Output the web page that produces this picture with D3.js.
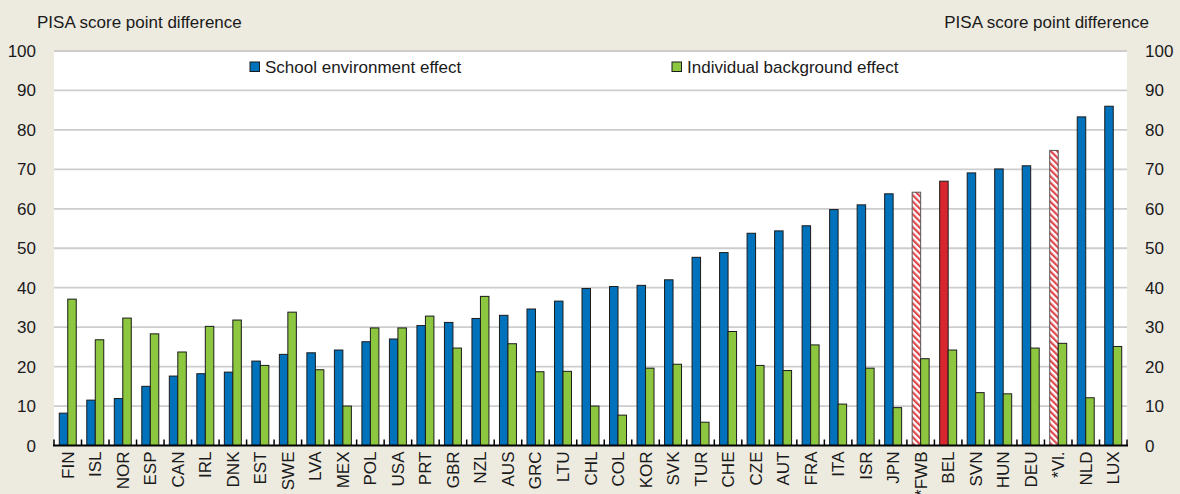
<!DOCTYPE html>
<html>
<head>
<meta charset="utf-8">
<script src="https://cdn.jsdelivr.net/npm/d3@7"></script>
<style>
  body { margin: 0; background: #edeae0; }
  svg text { font-family: "Liberation Sans", Arial, sans-serif; fill: #1a1a1a; }
</style>
</head>
<body>
<svg id="chart" width="1180" height="494"></svg>
<script>
// countries, sorted by school environment effect
var countries = ["FIN","ISL","NOR","ESP","CAN","IRL","DNK","EST","SWE","LVA",
    "MEX","POL","USA","PRT","GBR","NZL","AUS","GRC","LTU","CHL",
    "COL","KOR","SVK","TUR","CHE","CZE","AUT","FRA","ITA","ISR",
    "JPN","*FWB","BEL","SVN","HUN","DEU","*Vl.","NLD","LUX"];

var school_effect = [8.2,11.5,11.9,15.0,17.6,18.2,18.6,21.4,23.1,23.5,
    24.2,26.3,27.0,30.4,31.2,32.2,33.0,34.6,36.6,39.8,
    40.3,40.6,42.0,47.7,48.9,53.8,54.4,55.7,59.8,61.0,
    63.8,64.2,67.0,69.1,70.1,70.9,74.8,83.3,86.0];

var background_effect = [37.1,26.8,32.3,28.3,23.7,30.2,31.8,20.3,33.8,19.2,
    10.0,29.8,29.8,32.8,24.7,37.8,25.8,18.7,18.8,10.0,
    7.7,19.6,20.6,5.9,28.9,20.3,19.0,25.5,10.5,19.6,
    9.6,22.0,24.2,13.4,13.1,24.7,25.9,12.1,25.1];

var series_names = ["School environment effect", "Individual background effect"];
var y_ticks = [0,10,20,30,40,50,60,70,80,90,100];

var hatched = ["*FWB", "*Vl."];
var highlight = ["BEL"];

var colors = { school: "#0072bc", background: "#8dc63f", red: "#d7262d" };

var margin = { left: 54, right: 53, top: 51, bottom: 48.5 };
var W = 1180, H = 494;

var svg = d3.select("#chart");

// hatch pattern for the flemish / french community bars
var defs = svg.append("defs");
var pat = defs.append("pattern")
    .attr("id", "hatch")
    .attr("patternUnits", "userSpaceOnUse")
    .attr("width", 4.5).attr("height", 4.5)
    .attr("patternTransform", "rotate(-45)");
pat.append("rect").attr("width", 4.5).attr("height", 4.5).attr("fill", "#fff");
pat.append("rect").attr("width", 2.2).attr("height", 4.5).attr("fill", "#e0474c");

var x = d3.scaleBand()
    .domain(countries)
    .range([margin.left, W - margin.right])
    .padding(0);

var x1 = d3.scaleBand()
    .domain(["school", "background"])
    .range([0, x.bandwidth()])
    .paddingInner(0)
    .paddingOuter(0.62);

var y = d3.scaleLinear()
    .domain([0, 100])
    .range([H - margin.bottom, margin.top]);

// plot background
svg.append("rect")
    .attr("x", margin.left).attr("y", y(100))
    .attr("width", x.range()[1] - x.range()[0])
    .attr("height", y(0) - y(100))
    .attr("fill", "#fff");

// gridlines
svg.append("g").selectAll("line")
    .data(y_ticks.filter(function(d){ return d > 0; }))
    .enter().append("line")
    .attr("x1", margin.left).attr("x2", W - margin.right)
    .attr("y1", function(d){ return y(d); })
    .attr("y2", function(d){ return y(d); })
    .attr("stroke", "#cdcdcd").attr("stroke-width", 1.8);

// bars
var rows = countries.map(function(c, i){
    return { c: c, school: school_effect[i], background: background_effect[i] };
});

var g = svg.append("g").selectAll("g")
    .data(rows).enter().append("g")
    .attr("transform", function(d){ return "translate(" + x(d.c) + ",0)"; });

function school_fill(d){
    if (hatched.indexOf(d.c) >= 0) return "url(#hatch)";
    if (highlight.indexOf(d.c) >= 0) return colors.red;
    return colors.school;
}

g.append("rect")
    .attr("x", x1("school"))
    .attr("width", x1.bandwidth())
    .attr("y", function(d){ return y(d.school); })
    .attr("height", function(d){ return y(0) - y(d.school); })
    .attr("fill", school_fill)
    .attr("stroke", function(d){ return hatched.indexOf(d.c) >= 0 ? "#555" : "#1b1b1b"; })
    .attr("stroke-width", 1);

g.append("rect")
    .attr("x", x1("background"))
    .attr("width", x1.bandwidth())
    .attr("y", function(d){ return y(d.background); })
    .attr("height", function(d){ return y(0) - y(d.background); })
    .attr("fill", colors.background)
    .attr("stroke", "#1b1b1b")
    .attr("stroke-width", 1);

// x axis: baseline, tick marks between categories pointing up
var xa = svg.append("g");
xa.append("line")
    .attr("x1", margin.left - 1).attr("x2", W - margin.right + 1)
    .attr("y1", y(0)).attr("y2", y(0))
    .attr("stroke", "#000").attr("stroke-width", 2);
xa.selectAll("line.tk")
    .data(countries.concat(["__end"]))
    .enter().append("line")
    .classed("tk", true)
    .attr("x1", function(d, i){ return margin.left + i * x.step(); })
    .attr("x2", function(d, i){ return margin.left + i * x.step(); })
    .attr("y1", y(0)).attr("y2", y(0) - 6)
    .attr("stroke", "#000").attr("stroke-width", 1.5);

xa.selectAll("text")
    .data(countries).enter().append("text")
    .attr("transform", function(d){
        return "translate(" + (x(d) + x.bandwidth() / 2 + 6) + "," + (y(0) + 6) + ") rotate(-90)";
    })
    .attr("text-anchor", "end")
    .attr("font-size", 17)
    .text(function(d){ return d; });

// y labels left & right
svg.append("g").selectAll("text")
    .data(y_ticks).enter().append("text")
    .attr("x", 36).attr("y", function(d){ return y(d) + 6; })
    .attr("text-anchor", "end").attr("font-size", 17)
    .text(function(d){ return d; });

svg.append("g").selectAll("text")
    .data(y_ticks).enter().append("text")
    .attr("x", 1145).attr("y", function(d){ return y(d) + 6; })
    .attr("text-anchor", "start").attr("font-size", 17)
    .text(function(d){ return d; });

// axis titles
svg.append("text").attr("x", 37).attr("y", 28)
    .attr("font-size", 17).text("PISA score point difference");
svg.append("text").attr("x", 1149).attr("y", 28)
    .attr("text-anchor", "end")
    .attr("font-size", 17).text("PISA score point difference");

// legend
var legend_x = [250, 672];
var leg = svg.append("g").selectAll("g")
    .data(series_names).enter().append("g")
    .attr("transform", function(d, i){ return "translate(" + legend_x[i] + ",62)"; });
leg.append("rect")
    .attr("width", 9.5).attr("height", 9.5)
    .attr("fill", function(d, i){ return i == 0 ? colors.school : colors.background; })
    .attr("stroke", "#1b1b1b").attr("stroke-width", 1);
leg.append("text")
    .attr("x", 15).attr("y", 10.5)
    .attr("font-size", 17)
    .text(function(d){ return d; });
</script>
</body>
</html>
